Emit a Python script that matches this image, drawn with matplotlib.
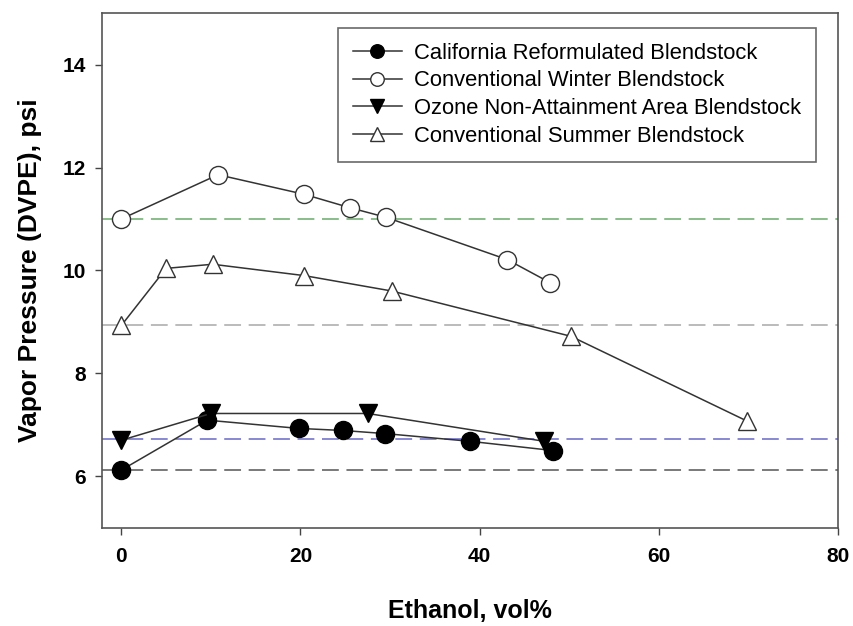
import matplotlib
matplotlib.use("Agg")
import matplotlib.pyplot as plt

plt.rcParams['font.family'] = ['Liberation Sans', 'DejaVu Sans']

# California Reformulated Blendstock
ca_x = [0, 9.6, 19.8, 24.7, 29.4, 38.9, 48.2]
ca_y = [6.12, 7.09, 6.93, 6.89, 6.83, 6.68, 6.50]
# Conventional Winter Blendstock
win_x = [0, 10.8, 20.4, 25.5, 29.6, 43.1, 47.9]
win_y = [11.0, 11.86, 11.48, 11.22, 11.03, 10.21, 9.76]
# Ozone Non-Attainment Area Blendstock
oz_x = [0, 10.0, 27.5, 47.2]
oz_y = [6.70, 7.22, 7.22, 6.68]
# Conventional Summer Blendstock
sum_x = [0, 5.0, 10.2, 20.4, 30.2, 50.2, 69.9]
sum_y = [8.93, 10.04, 10.12, 9.90, 9.60, 8.72, 7.07]

# base values of each blendstock (dashed references)
ref_vals = [11.0, 8.93, 6.72, 6.12]
ref_colors = ['#6aaa6a', '#a8a8a8', '#6868c8', '#555555']

fig = plt.figure(figsize=(8.54, 6.26), dpi=100)
ax = fig.add_axes([0.119, 0.157, 0.862, 0.822])

for v, c in zip(ref_vals, ref_colors):
    ax.axhline(v, color=c, lw=1.1, dashes=(11, 5), zorder=1)

ms = 13
ax.plot(ca_x, ca_y, '-o', color='#333333', lw=1.1, mfc='black', mec='black',
        ms=ms, label='California Reformulated Blendstock', zorder=3)
ax.plot(win_x, win_y, '-o', color='#333333', lw=1.1, mfc='white', mec='#333333',
        ms=ms, label='Conventional Winter Blendstock', zorder=3)
ax.plot(oz_x, oz_y, '-v', color='#333333', lw=1.1, mfc='black', mec='black',
        ms=ms, label='Ozone Non-Attainment Area Blendstock', zorder=3)
ax.plot(sum_x, sum_y, '-^', color='#333333', lw=1.1, mfc='white', mec='#333333',
        ms=ms, label='Conventional Summer Blendstock', zorder=3)

ax.set_xlim(-2.2, 80)
ax.set_ylim(5, 15)
ax.set_xticks([0, 20, 40, 60, 80])
ax.set_yticks([6, 8, 10, 12, 14])
ax.tick_params(direction='out', length=5, width=1, color='#444444',
               labelsize=15)
ax.tick_params(axis='x', pad=9)
ax.tick_params(axis='y', pad=6)
for lab in ax.get_xticklabels() + ax.get_yticklabels():
    lab.set_fontweight('bold')
for s in ax.spines.values():
    s.set_color('#555555')
    s.set_linewidth(1.2)

ax.set_xlabel('Ethanol, vol%', fontsize=18, fontweight='bold', labelpad=24)
ax.set_ylabel('Vapor Pressure (DVPE), psi', fontsize=19, fontweight='bold',
              labelpad=15)

leg = ax.legend(loc='upper left', bbox_to_anchor=(0.321, 0.972), fontsize=15.8,
                markerscale=0.75, handlelength=2.2, handletextpad=0.55,
                labelspacing=0.3, frameon=True, fancybox=False,
                borderpad=0.7, borderaxespad=0)
leg.get_frame().set_edgecolor('#444444')
leg.get_frame().set_linewidth(1.2)

fig.savefig('out.png', dpi=100)
